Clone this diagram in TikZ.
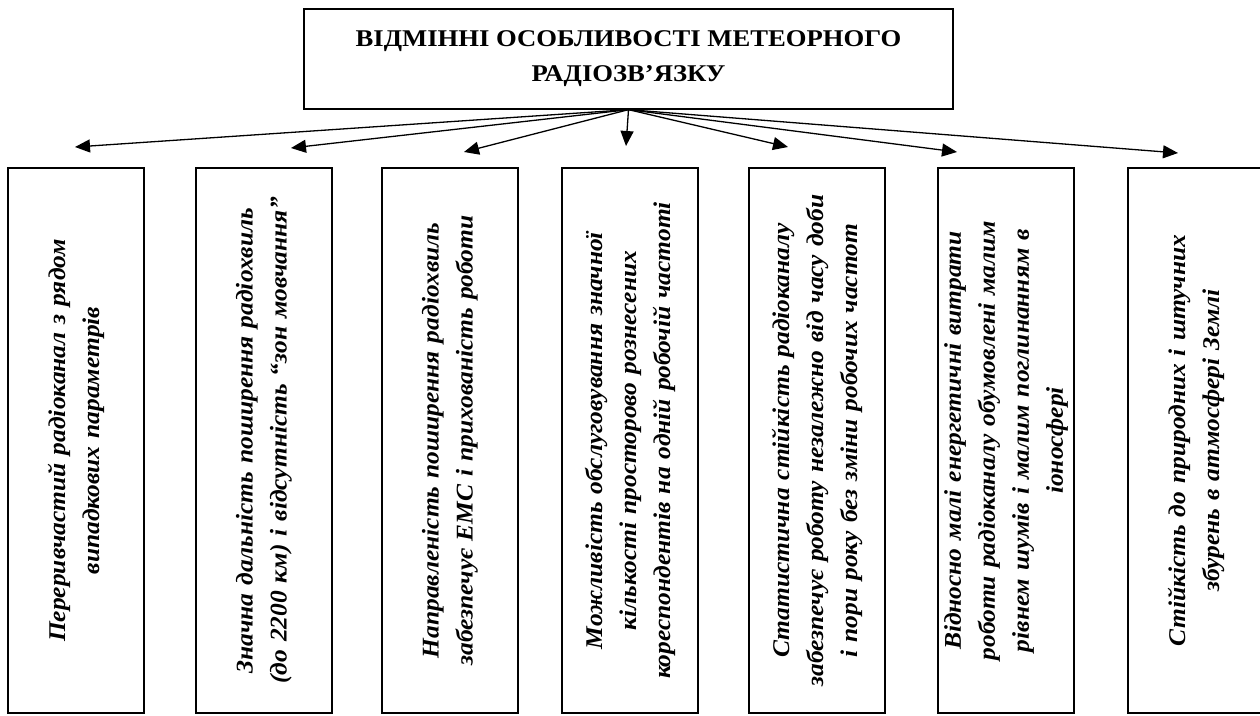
\documentclass[tikz,border=0pt]{standalone}
\usepackage{fontspec}
\setmainfont{Liberation Serif}
\newfontfamily\headfont[FakeStretch=1.11]{Liberation Serif}
\newfontfamily\boxfont[FakeStretch=1.06]{Liberation Serif}
\usetikzlibrary{arrows.meta}

\tikzset{
  headbox/.style={draw, line width=1.3pt, minimum width=649pt, minimum height=100pt,
    align=center, inner sep=0pt, font=\headfont\fontsize{24}{35}\selectfont\bfseries},
  vbox/.style={draw, line width=1.3pt, rotate=90, minimum width=545pt, minimum height=136pt,
    text width=530pt, align=center, inner sep=0pt, font=\boxfont\fontsize{24}{34}\selectfont\bfseries\itshape},
  arr/.style={line width=1.3pt, -{Triangle[length=15pt,width=13pt]}}
}

\begin{document}
\begin{tikzpicture}[x=1pt,y=-1pt] % 1 pt = 1 px
\useasboundingbox (0,0) rectangle (1260,715);
\node[headbox] (head) at (628.5,59) {ВІДМІННІ ОСОБЛИВОСТІ МЕТЕОРНОГО\\ РАДІОЗВ’ЯЗКУ};
% les sept cases
\node[vbox] (b1) at (76,440.5) {Переривчастий радіоканал з рядом\\ випадкових параметрів};
\node[vbox] (b2) at (264,440.5) {Значна дальність поширення радіохвиль\\ (до 2200 км) і відсутність “зон мовчання”};
\node[vbox] (b3) at (450,440.5) {Направленість поширення радіохвиль\\ забезпечує ЕМС і прихованість роботи};
\node[vbox] (b4) at (630,440.5) {Можливість обслуговування значної\\ кількості просторово рознесених\\ кореспондентів на одній робочій частоті};
\node[vbox] (b5) at (817,440.5) {Статистична стійкість радіоканалу\\ забезпечує роботу незалежно від часу доби\\ і пори року без зміни робочих частот};
\node[vbox] (b6) at (1006,440.5) {Відносно малі енергетичні витрати\\ роботи радіоканалу обумовлені малим\\ рівнем шумів і малим поглинанням в\\ іоносфері};
\node[vbox] (b7) at (1196,440.5) {Стійкість до природних і штучних\\ збурень в атмосфері Землі};
% les flèches
\foreach \n/\x/\y in {1/75/147, 2/291/148, 3/464/152, 4/626/146, 5/788/147, 6/957/152, 7/1178/153}{
  \coordinate (t\n) at (\x,\y);
  \draw[arr] (head.south) -- (t\n);}
\end{tikzpicture}
\end{document}
